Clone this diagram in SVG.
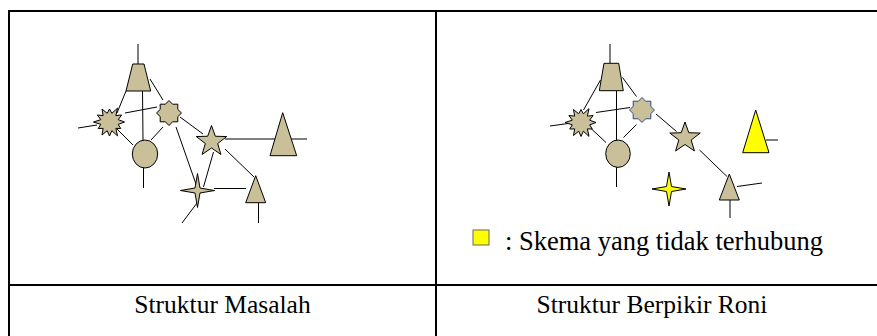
<svg xmlns="http://www.w3.org/2000/svg" xmlns:xlink="http://www.w3.org/1999/xlink" width="877" height="336" viewBox="0 0 877 336">
  <style>
    .grid { stroke: #000; stroke-width: 2; fill: none; }
    .link { stroke: #000; stroke-width: 1; fill: none; }
    .node { fill: #c9c09a; stroke: #000; stroke-width: 1; }
    .alone { fill: #ffff00; stroke: #000; stroke-width: 1; }
    .label { font-family: "Liberation Serif", "Times New Roman", serif; font-size: 25.5px; fill: #000; }
    .note { font-size: 26.5px; }
  </style>
  <defs>
    <polygon id="burst" points="15,0 8.69,2.33 11.26,6.5 6.36,6.36 8,13.86 2.33,8.69 0,14 -2.33,8.69 -7.5,12.99 -6.36,6.36 -11.26,6.5 -8.69,2.33 -16,0 -8.69,-2.33 -12.12,-7 -6.36,-6.36 -7.5,-12.99 -2.33,-8.69 0,-13 2.33,-8.69 8,-13.86 6.36,-6.36 12.12,-7 8.69,-2.33"/>
    <polygon id="star8" points="0,-12.5 3.64,-8.78 8.84,-8.84 8.78,-3.64 12.5,0 8.78,3.64 8.84,8.84 3.64,8.78 0,12.5 -3.64,8.78 -8.84,8.84 -8.78,3.64 -12.5,0 -8.78,-3.64 -8.84,-8.84 -3.64,-8.78"/>
    <polygon id="star5" points="0,-16 3.82,-5.26 15.22,-4.94 6.18,2.01 9.4,12.94 0,6.5 -9.4,12.94 -6.18,2.01 -15.22,-4.94 -3.82,-5.26"/>
    <polygon id="star4" points="0,-17 2.5,-2.5 17,0 2.5,2.5 0,17 -2.5,2.5 -17,0 -2.5,-2.5"/>
  </defs>

  <!-- table frame -->
  <g id="table">
    <line class="grid" x1="8" y1="11" x2="877" y2="11"/>
    <line class="grid" x1="9" y1="10" x2="9" y2="336"/>
    <line class="grid" x1="436" y1="11" x2="436" y2="336"/>
    <line class="grid" x1="8" y1="285" x2="877" y2="285"/>
  </g>

  <!-- connectors, left structure -->
  <g id="links-left">
    <line class="link" x1="138" y1="44" x2="138" y2="64"/>
    <line class="link" x1="142.5" y1="91" x2="143" y2="140"/>
    <line class="link" x1="143.5" y1="168" x2="143.5" y2="188"/>
    <line class="link" x1="78" y1="128" x2="97" y2="125"/>
    <line class="link" x1="126" y1="91" x2="117" y2="113"/>
    <line class="link" x1="125" y1="113" x2="157" y2="107"/>
    <line class="link" x1="117" y1="129" x2="133" y2="145"/>
    <line class="link" x1="150" y1="79" x2="163" y2="100"/>
    <line class="link" x1="163" y1="127" x2="151" y2="140"/>
    <line class="link" x1="180" y1="117" x2="203" y2="134"/>
    <line class="link" x1="176" y1="127" x2="197" y2="187"/>
    <line class="link" x1="225" y1="139" x2="307" y2="139"/>
    <line class="link" x1="213.5" y1="152" x2="203.5" y2="187"/>
    <line class="link" x1="225" y1="149" x2="254" y2="177"/>
    <line class="link" x1="214" y1="188.5" x2="246" y2="188.5"/>
    <line class="link" x1="197" y1="203" x2="182" y2="223"/>
    <line class="link" x1="258.5" y1="203" x2="258.5" y2="223"/>
  </g>

  <!-- connectors, right structure -->
  <g id="links-right">
    <line class="link" x1="610" y1="44" x2="610" y2="63"/>
    <line class="link" x1="616.5" y1="91" x2="616.5" y2="140"/>
    <line class="link" x1="616.5" y1="167" x2="616.5" y2="187"/>
    <line class="link" x1="550" y1="126" x2="568" y2="123.5"/>
    <line class="link" x1="600.5" y1="80" x2="583.5" y2="110"/>
    <line class="link" x1="596" y1="112.5" x2="630" y2="107.5"/>
    <line class="link" x1="590" y1="127.5" x2="606" y2="142.5"/>
    <line class="link" x1="622.5" y1="77.5" x2="636.5" y2="96.5"/>
    <line class="link" x1="636.5" y1="124.5" x2="623.5" y2="137.5"/>
    <line class="link" x1="656" y1="114" x2="676.5" y2="131.5"/>
    <line class="link" x1="699.5" y1="150" x2="727" y2="176.5"/>
    <line class="link" x1="737" y1="186.5" x2="762" y2="183"/>
    <line class="link" x1="730" y1="200" x2="730" y2="218"/>
    <line class="link" x1="766" y1="140" x2="778" y2="140"/>
  </g>

  <!-- left structure nodes -->
  <g id="l-trapezoid"><polygon class="node" points="132.7,64 144,64 150.7,91 126,91"/></g>
  <g id="l-burst"><use xlink:href="#burst" class="node" transform="translate(109.5,122)"/></g>
  <g id="l-octagram"><use xlink:href="#star8" class="node" transform="translate(169,113)"/></g>
  <g id="l-circle"><ellipse class="node" cx="145" cy="154" rx="12.7" ry="14"/></g>
  <g id="l-star5"><use xlink:href="#star5" class="node" transform="translate(211.5,141.5)"/></g>
  <g id="l-triangle-big"><polygon class="node" points="282.7,112.7 296.7,155.7 270,155.7"/></g>
  <g id="l-star4"><use xlink:href="#star4" class="node" transform="translate(197.5,190.5)"/></g>
  <g id="l-triangle-small"><polygon class="node" points="255.7,175.7 265.7,202.7 245.7,202.7"/></g>

  <!-- right structure nodes -->
  <g id="r-trapezoid"><polygon class="node" points="604,63.3 618.7,63.3 623.3,90.7 599.3,90.7"/></g>
  <g id="r-burst"><use xlink:href="#burst" class="node" transform="translate(581,122.5)"/></g>
  <g id="r-octagram"><use xlink:href="#star8" class="node" style="stroke:#2b4a8a" transform="translate(642,110)"/></g>
  <g id="r-circle"><ellipse class="node" cx="618" cy="153.7" rx="12.3" ry="13.7"/></g>
  <g id="r-star5"><use xlink:href="#star5" class="node" transform="translate(685,138)"/></g>
  <g id="r-triangle-big"><polygon class="alone" points="755.7,110 769,152.7 742.7,152.7"/></g>
  <g id="r-star4"><use xlink:href="#star4" class="alone" transform="translate(669,189)"/></g>
  <g id="r-triangle-small"><polygon class="node" points="729.3,174 739.3,200 719.3,200"/></g>

  <!-- legend -->
  <g id="legend">
    <rect x="473" y="230" width="16" height="15" fill="#ffff00" stroke="#666" stroke-width="1"/>
    <text class="label note" x="505" y="250">: Skema yang tidak terhubung</text>
  </g>

  <!-- captions -->
  <g id="captions">
    <text class="label" x="222.5" y="313" text-anchor="middle">Struktur Masalah</text>
    <text class="label" x="652" y="313" text-anchor="middle">Struktur Berpikir Roni</text>
  </g>
</svg>
